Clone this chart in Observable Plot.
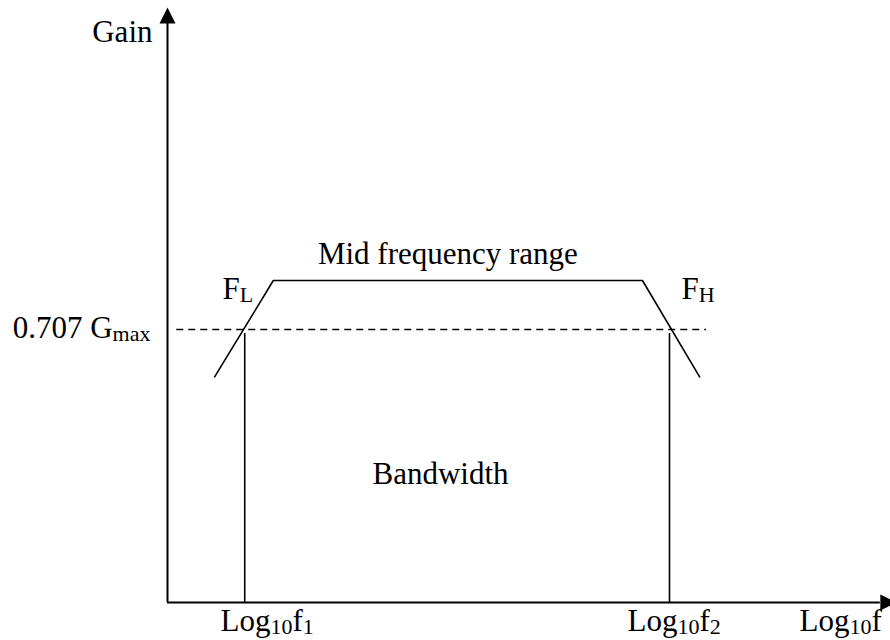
<!DOCTYPE html>
<html>
<head>
<meta charset="utf-8">
<script src="https://cdn.jsdelivr.net/npm/d3@7"></script>
<script src="https://cdn.jsdelivr.net/npm/@observablehq/plot@0.6"></script>
<style>
  html, body { margin: 0; padding: 0; background: #fff; }
  #chart svg { display: block; }
</style>
</head>
<body>
<div id="chart"></div>
<script>
// ---- Data (x: log10 f in arbitrary units, y: gain in dB relative to Gmax) ----
const curveLogF   = [0.61, 1.37, 6.15, 6.89];   // response corners
const curveGainDb = [-5.9, 0, 0, -5.9];
const cutoffLogF  = [1, 6.5];                   // log10 f1, log10 f2
const halfPowerDb = -3;                         // 0.707 Gmax
const halfPowerSpan = [0.12, 6.98];             // dashed line extent
const cutoffTopDb = -3.25;                      // verticals start just below dashed line
const axisOriginX = 0;
const axisOriginY = -19.7;
const axisEndX = 9.23;                          // base of x arrow head
const axisEndY = 15.72;                         // base of y arrow head

const labelTexts = ["Gain", "0.707 G_{max}", "F_{L}", "F_{H}", "Mid frequency range", "Bandwidth",
                    "Log_{10}f_{1}", "Log_{10}f_{2}", "Log_{10}f"];
const labelX     = [0, 0, 0.712, 6.655, 3.63, 3.535, 0.686, 5.956, 8.183];
const labelY     = [14.6, -3.5, -1.16, -1.16, 1.04, -12.42, -21.47, -21.47, -21.47];
const labelAnchor = ["end", "end", "start", "start", "middle", "middle", "start", "start", "start"];
const labelDx    = [-15, -17, 0, 0, 0, 0, 0, 0, 0];

// ---- Build tables ----
const curve = curveLogF.map((x, i) => ({x, y: curveGainDb[i]}));
const cutoffs = cutoffLogF.map(x => ({x, y1: cutoffTopDb, y2: axisOriginY}));
const dashed = [{y: halfPowerDb, x1: halfPowerSpan[0], x2: halfPowerSpan[1]}];
const labels = labelTexts.map((t, i) => ({t, x: labelX[i], y: labelY[i], a: labelAnchor[i], dx: labelDx[i]}));

const arrowUp = { draw(ctx) { ctx.moveTo(-8, 0); ctx.lineTo(8, 0); ctx.lineTo(0, -16); ctx.closePath(); } };
const arrowRight = { draw(ctx) { ctx.moveTo(0, -8); ctx.lineTo(0, 8); ctx.lineTo(16, 0); ctx.closePath(); } };

const font = "Liberation Serif, Times New Roman, serif";

const textMarks = ["start", "middle", "end"].flatMap(anchor => [0, -15, -17].map(dx =>
  Plot.text(labels.filter(d => d.a === anchor && d.dx === dx), {
    x: "x", y: "y", text: "t", textAnchor: anchor, lineAnchor: "bottom", dx,
    fontFamily: font, fontSize: 31, fill: "black"
  })
));

const plot = Plot.plot({
  width: 890,
  height: 640,
  margin: 0,
  style: {background: "#fff"},
  x: {domain: [0, 6.5], range: [167, 669], axis: null},
  y: {domain: [axisOriginY, 0], range: [602, 280], axis: null},
  marks: [
    // axes
    Plot.ruleX([axisOriginX], {y1: axisOriginY, y2: axisEndY, stroke: "black", strokeWidth: 2}),
    Plot.ruleY([axisOriginY], {x1: axisOriginX, x2: axisEndX, stroke: "black", strokeWidth: 2}),
    Plot.dot([{x: axisOriginX, y: axisEndY}], {x: "x", y: "y", symbol: arrowUp, fill: "black", stroke: "none"}),
    Plot.dot([{x: axisEndX, y: axisOriginY}], {x: "x", y: "y", symbol: arrowRight, fill: "black", stroke: "none"}),
    // half-power dashed line
    Plot.ruleY(dashed, {y: "y", x1: "x1", x2: "x2", stroke: "black", strokeWidth: 1.6, strokeDasharray: "7,5"}),
    // cutoff verticals
    Plot.ruleX(cutoffs, {x: "x", y1: "y1", y2: "y2", stroke: "black", strokeWidth: 1.6}),
    // response curve
    Plot.line(curve, {x: "x", y: "y", stroke: "black", strokeWidth: 1.6, strokeLinejoin: "miter"}),
    ...textMarks
  ]
});

// Convert _{...} markers into subscript tspans
d3.select(plot).selectAll("text").each(function () {
  const s = this.textContent;
  if (!s.includes("_{")) return;
  const parts = s.split(/(_\{[^}]*\})/).filter(p => p.length);
  const el = d3.select(this);
  el.text(null);
  let lowered = false;
  for (const p of parts) {
    if (p.startsWith("_{")) {
      el.append("tspan").attr("font-size", 22).attr("dy", lowered ? 0 : 3).text(p.slice(2, -1));
      lowered = true;
    } else {
      el.append("tspan").attr("dy", lowered ? -3 : 0).text(p);
      lowered = false;
    }
  }
});

document.getElementById("chart").appendChild(plot);
</script>
</body>
</html>
